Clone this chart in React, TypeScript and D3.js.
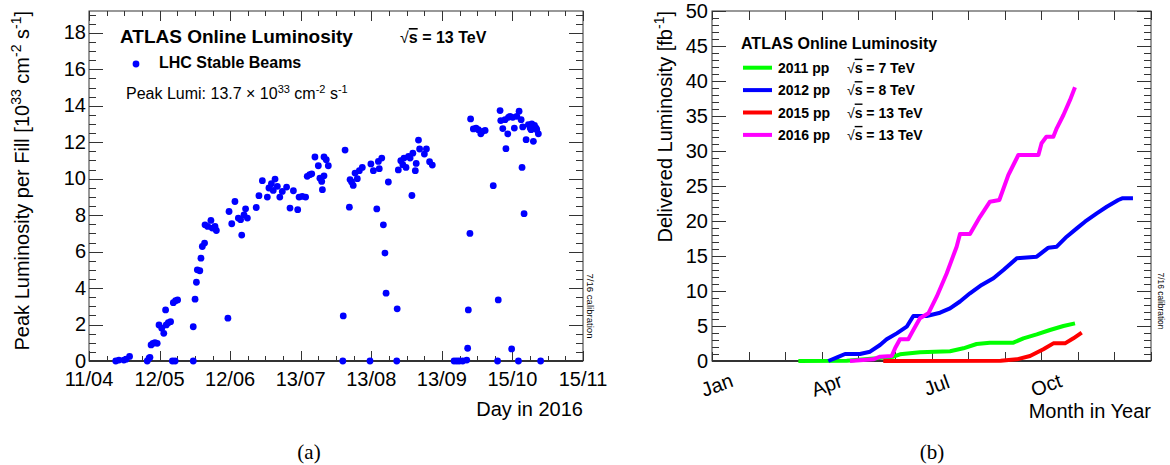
import React from 'react';
import * as d3 from 'd3';

const FONT = "'Liberation Sans', Arial, Helvetica, sans-serif";

// (a) peak luminosity per fill: [days after 11/04/2016, peak lumi in 1e33]
const fills: [number, number][] = [
  [11.8, 0], [13.2, 0.05], [15.4, 0.05], [16.4, 0.1], [17.9, 0.25],
  [25.7, 0], [26.5, 0.15], [26.9, 0.2], [36.8, 0], [38, 0], [46, 0],
  [27.4, 0.88], [28.2, 0.97], [29.1, 1.0], [30.1, 0.97],
  [30.9, 1.98], [32.1, 1.8], [33, 1.52], [34.1, 1.98], [35, 2.1], [36, 2.16],
  [33.8, 2.8], [37.2, 3.2], [38.2, 3.31], [39.1, 3.35],
  [46, 1.88], [46.8, 3.39], [47.4, 4.32], [47.8, 5.0], [48.9, 4.95], [49.4, 5.64], [50, 6.28], [51, 6.47],
  [51.2, 7.47], [52.4, 7.38], [53.8, 7.71], [54.4, 7.29], [55.6, 7.38], [56.2, 7.16],
  [61.3, 2.35], [61.8, 8.2], [63, 7.53], [64.4, 8.75], [65.9, 7.84], [66.9, 7.75], [67.4, 6.91],
  [68.4, 8.02], [69.1, 8.35], [69.9, 7.84], [73.8, 8.42], [75, 9.07], [76.5, 9.89],
  [78.7, 8.99], [79.4, 9.49], [80.5, 9.73], [81.3, 9.36], [82.1, 9.98], [83.1, 9.58], [84.2, 8.99],
  [85.3, 9.3], [87.2, 9.54], [88.7, 8.39], [90.2, 9.34], [92.1, 8.3], [92.7, 8.99], [94.1, 9.03], [95.6, 8.99],
  [96.3, 10.13], [97.4, 10.22], [98.3, 10.27], [99.7, 11.19], [101.2, 10.71], [101.9, 10.03],
  [102.7, 9.85], [103, 9.4], [103.7, 10.16], [103.7, 11.19], [104.7, 11.04], [105.6, 10.71],
  [113, 11.57], [112.2, 2.47], [112, 0], [114.9, 8.44],
  [115.2, 9.95], [115.9, 9.82], [116.6, 9.63], [117.4, 10.31], [118.4, 10.0], [119.3, 10.44], [120.6, 10.62],
  [124, 0], [124.4, 10.81], [125.5, 10.44], [127, 8.34], [127.7, 10.95], [128.1, 10.55], [129.2, 11.13],
  [129.9, 7.47], [130.6, 5.92], [131.1, 3.72], [132.1, 9.82], [135.8, 0], [136, 2.86],
  [136.5, 10.48], [137.6, 10.99], [138.5, 10.77], [139, 11.13], [139.9, 10.62], [141, 11.23], [141.7, 11.13],
  [142.5, 9.08], [142.9, 11.4], [144, 10.44], [144.4, 10.84], [145.4, 12.12], [145.9, 11.63], [148, 11.35],
  [148.9, 11.63], [150.3, 10.93], [151.5, 10.75],
  [161.1, 0], [162.3, 0], [163.4, 0], [164.9, 0], [166.7, 0.05], [167.1, 0.7], [167.4, 2.8], [168.1, 7.0], [168.4, 13.28],
  [169.6, 12.73], [170.8, 12.78], [171.8, 12.69], [172.9, 12.46], [173.7, 12.6], [174.8, 12.65],
  [178.4, 9.62], [180.3, 0], [180.6, 3.35], [181.4, 13.74], [181.7, 13.19], [182.6, 12.75], [184, 11.65], [184.8, 12.46],
  [183.6, 13.24], [185.1, 13.37], [185.8, 13.42], [187, 13.37], [187.7, 12.78], [188.8, 13.42], [189.8, 13.7],
  [190.7, 13.24], [191.4, 12.84], [191.1, 10.62], [186.5, 0.66], [189.5, 0], [192, 8.08],
  [192.9, 12.14], [193.9, 12.97], [194.7, 12.78], [195.4, 13.0], [196.1, 12.05], [196.6, 12.93],
  [197.3, 12.78], [197.6, 12.69], [198.3, 12.46], [195.1, 12.69], [199.3, 0],
];
const dayTickLabels = ['11/04', '12/05', '12/06', '13/07', '13/08', '13/09', '15/10', '15/11'];
const dayRange = 218;

// (b) delivered luminosity: [day of year, fb^-1]
const lumi2011: [number, number][] = [
  [71.8, 0], [112, 0.05], [137, 0.38], [150.8, 0.62], [156.3, 0.95], [172.9, 1.25], [197.9, 1.4],
  [209, 1.81], [220, 2.43], [231, 2.62], [250.6, 2.62], [258.9, 3.24], [270, 3.81], [281, 4.43],
  [292.2, 5.0], [301.8, 5.38],
];
const lumi2012: [number, number][] = [
  [96.7, 0], [105, 0.6], [110.6, 1.0], [123, 1.0], [131.4, 1.33], [139.7, 2.29], [145.2, 3.1],
  [153.6, 3.95], [161.9, 4.9], [167.4, 6.43], [178.5, 6.43], [189.6, 6.9], [197.9, 7.52], [206.2, 8.5],
  [214.5, 9.67], [224.2, 10.86], [234, 11.81], [242.3, 13.0], [253.4, 14.67], [270, 14.9],
  [279.7, 16.19], [286.6, 16.33], [294.9, 17.76], [303.3, 18.95], [310.1, 19.9], [319.9, 21.1],
  [328.2, 22.04], [337.8, 23.0], [341, 23.24], [350, 23.24],
];
const lumi2015: [number, number][] = [
  [142.4, 0], [240, 0.05], [253.4, 0.24], [264.4, 0.71], [275.5, 1.67], [283.8, 2.52],
  [293.5, 2.52], [300.5, 3.24], [307.4, 4.05],
];
const lumi2016: [number, number][] = [
  [114.7, 0], [134.1, 0.24], [139.7, 0.62], [149.4, 0.71], [152.2, 1.81], [156.3, 3.1], [163.2, 3.1],
  [167.4, 4.43], [172.9, 6.1], [179.9, 6.81], [186.8, 9.19], [195.1, 12.5], [203.4, 16.33],
  [206.2, 18.14], [214.5, 18.14], [222.8, 20.6], [231.1, 22.76], [238.9, 23.0], [246.4, 26.57],
  [254.7, 29.43], [271.4, 29.43], [274, 31.1], [278, 32.04], [283.8, 32.04], [286.6, 33.24],
  [292.2, 35.14], [297.7, 37.3], [301.8, 39.1],
];
const years = [
  { label: '2011 pp', energy: '7', color: '#00ff00', data: lumi2011 },
  { label: '2012 pp', energy: '8', color: '#0000ff', data: lumi2012 },
  { label: '2015 pp', energy: '13', color: '#ff0000', data: lumi2015 },
  { label: '2016 pp', energy: '13', color: '#ff00ff', data: lumi2016 },
];
const monthLabels = ['Jan', '', '', 'Apr', '', '', 'Jul', '', '', 'Oct', '', '', ''];

const AX = '#333';

function Sqrt({ s }: { s: string }) {
  return (
    <>
      <tspan fontWeight="normal">√</tspan>
      <tspan style={{ textDecoration: 'overline' }}>s</tspan>
      <tspan>{s}</tspan>
    </>
  );
}

export default function App() {
  // panel (a)
  const a = { l: 89, r: 583, t: 11, b: 361 };
  const xa = d3.scaleLinear().domain([0, dayRange]).range([a.l, a.r]);
  const ya = d3.scaleLinear().domain([0, 19.2]).range([a.b, a.t]);
  const xaMajor = d3.range(8).map(i => (i * dayRange) / 7);
  const xaMinor = d3.range(29).map(i => (i * dayRange) / 28);
  const yaMajor = d3.range(0, 19, 2);
  const yaMinor = d3.range(0, 19.2, 0.5);

  // panel (b)
  const b = { l: 712, r: 1151, t: 11, b: 361 };
  const xb = d3.scaleLinear().domain([0, 365]).range([b.l, b.r]);
  const yb = d3.scaleLinear().domain([0, 50]).range([b.b, b.t]);
  const xbTicks = d3.range(13).map(i => (i * 365) / 12);
  const ybMajor = d3.range(0, 51, 5);
  const ybMinor = d3.range(0, 51, 1);
  const line = d3.line<[number, number]>().x(d => xb(d[0])).y(d => yb(d[1]));

  return (
    <svg width={1170} height={465} style={{ position: 'absolute', left: 0, top: 0, background: '#fff' }} fontFamily={FONT}>
      {/* ---------- panel (a) ---------- */}
      <g stroke={AX} strokeWidth={1} fill="none">
        <rect x={a.l} y={a.t} width={a.r - a.l} height={a.b - a.t} />
        {xaMinor.map((d, i) => {
          const big = i % 4 === 0;
          const x = Math.round(xa(d)) + 0.5;
          return (
            <g key={'xa' + i}>
              <line x1={x} x2={x} y1={a.b} y2={a.b - (big ? 10 : 5)} />
              <line x1={x} x2={x} y1={a.t} y2={a.t + (big ? 10 : 5)} />
            </g>
          );
        })}
        {yaMinor.map((v, i) => {
          const big = i % 4 === 0;
          const y = Math.round(ya(v)) + 0.5;
          return (
            <g key={'ya' + i}>
              <line x1={a.l} x2={a.l + (big ? 14 : 7)} y1={y} y2={y} />
              <line x1={a.r} x2={a.r - (big ? 14 : 7)} y1={y} y2={y} />
            </g>
          );
        })}
        <line x1={a.l} x2={a.r} y1={a.b} y2={a.b} strokeWidth={2} />
      </g>
      <g fontSize={20} fill="#000">
        {yaMajor.map(v => (
          <text key={'yal' + v} x={86} y={ya(v) + 6.5} textAnchor="end">{v}</text>
        ))}
        {xaMajor.map((d, i) => (
          <text key={'xal' + i} x={xa(d)} y={386} textAnchor="middle">{dayTickLabels[i]}</text>
        ))}
        <text x={a.r} y={416} textAnchor="end">Day in 2016</text>
        <text transform={`translate(28.5,${a.t}) rotate(-90)`} textAnchor="end">
          Peak Luminosity per Fill [10<tspan dy={-8} fontSize={14}>33</tspan>
          <tspan dy={8}> cm</tspan><tspan dy={-8} fontSize={14}>-2</tspan>
          <tspan dy={8}> s</tspan><tspan dy={-8} fontSize={14}>-1</tspan>
          <tspan dy={8}>]</tspan>
        </text>
      </g>
      {fills.map((p, i) => (
        <circle key={'f' + i} cx={xa(p[0])} cy={ya(p[1])} r={3.4} fill="#0000ff" />
      ))}
      <text x={120} y={43} fontSize={19} fontWeight="bold">ATLAS Online Luminosity</text>
      <text x={400} y={43} fontSize={16} fontWeight="bold"><Sqrt s=" = 13 TeV" /></text>
      <circle cx={136} cy={64} r={3.4} fill="#0000ff" />
      <text x={159} y={68} fontSize={16} fontWeight="bold">LHC Stable Beams</text>
      <text x={126} y={99} fontSize={16}>
        Peak Lumi: 13.7 × 10<tspan dy={-6} fontSize={11}>33</tspan>
        <tspan dy={6}> cm</tspan><tspan dy={-6} fontSize={11}>-2</tspan>
        <tspan dy={6}> s</tspan><tspan dy={-6} fontSize={11}>-1</tspan>
      </text>
      <text transform="translate(587,306) rotate(90)" textAnchor="middle" fontSize={9.6}>7/16 calibration</text>
      <text x={309} y={459} fontSize={21} fontFamily="'Liberation Serif', 'Times New Roman', serif" textAnchor="middle">(a)</text>

      {/* ---------- panel (b) ---------- */}
      <g stroke={AX} strokeWidth={1} fill="none">
        <rect x={b.l} y={b.t} width={b.r - b.l} height={b.b - b.t} />
        {xbTicks.map((d, i) => {
          const x = Math.round(xb(d)) + 0.5;
          return (
            <g key={'xb' + i}>
              <line x1={x} x2={x} y1={b.b} y2={b.b - 9} />
              <line x1={x} x2={x} y1={b.t} y2={b.t + 9} />
            </g>
          );
        })}
        {ybMinor.map((v, i) => {
          const big = i % 5 === 0;
          const y = Math.round(yb(v)) + 0.5;
          return (
            <g key={'yb' + i}>
              <line x1={b.l} x2={b.l + (big ? 14 : 7)} y1={y} y2={y} />
              <line x1={b.r} x2={b.r - (big ? 14 : 7)} y1={y} y2={y} />
            </g>
          );
        })}
        <line x1={b.l} x2={b.r} y1={b.b} y2={b.b} strokeWidth={2} />
      </g>
      {years.map(yr => (
        <path key={yr.label} d={line(yr.data) || ''} stroke={yr.color} strokeWidth={4} fill="none" strokeLinejoin="round" />
      ))}
      <g fontSize={20} fill="#000">
        {ybMajor.map(v => (
          <text key={'ybl' + v} x={708} y={yb(v) + 6.5} textAnchor="end">{v}</text>
        ))}
        {xbTicks.map((d, i) => monthLabels[i] ? (
          <text key={'xbl' + i} transform={`translate(${xb(d) + 5},385) rotate(-20)`} textAnchor="middle" dominantBaseline="central">{monthLabels[i]}</text>
        ) : null)}
        <text x={b.r} y={418} textAnchor="end">Month in Year</text>
        <text transform={`translate(672,${b.t}) rotate(-90)`} textAnchor="end">
          Delivered Luminosity [fb<tspan dy={-8} fontSize={14}>-1</tspan><tspan dy={8}>]</tspan>
        </text>
      </g>
      <text x={741} y={49} fontSize={16} fontWeight="bold">ATLAS Online Luminosity</text>
      {years.map((yr, i) => {
        const y = 67.7 + i * 22.4;
        return (
          <g key={'lg' + i}>
            <line x1={743} x2={772} y1={y} y2={y} stroke={yr.color} strokeWidth={4} />
            <text x={778} y={y + 5} fontSize={14} fontWeight="bold">{yr.label}</text>
            <text x={847} y={y + 5} fontSize={14} fontWeight="bold"><Sqrt s={` = ${yr.energy} TeV`} /></text>
          </g>
        );
      })}
      <text transform="translate(1158,301) rotate(90)" textAnchor="middle" fontSize={8.4}>7/16 calibration</text>
      <text x={932} y={459} fontSize={21} fontFamily="'Liberation Serif', 'Times New Roman', serif" textAnchor="middle">(b)</text>
    </svg>
  );
}
